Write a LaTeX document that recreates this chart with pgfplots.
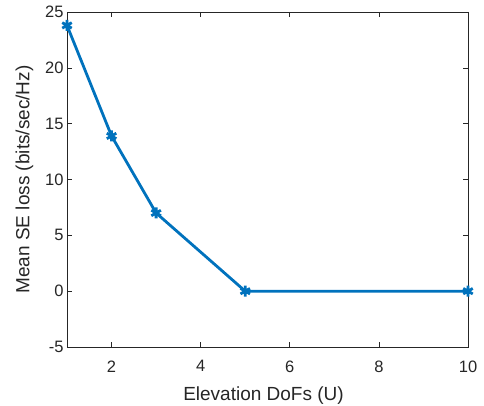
\documentclass[border=0pt]{standalone}
\usepackage{pgfplots}
\pgfplotsset{compat=1.18}
\usepackage{fontspec}
\setmainfont{Liberation Sans}
\definecolor{mblue}{rgb}{0,0.447,0.741}
\definecolor{axgray}{rgb}{0.15,0.15,0.15}
\begin{document}
\begin{tikzpicture}
\begin{axis}[
  scale only axis,
  width=401pt, height=335pt,
  xmin=1, xmax=10, ymin=-5, ymax=25,
  xtick={2,4,6,8,10}, ytick={-5,0,5,10,15,20,25},
  tick align=inside,
  major tick length=5pt,
  axis line style={axgray, line width=0.6pt},
  tick style={axgray, line width=0.6pt},
  ticklabel style={font=\fontsize{16.5}{19}\selectfont, text=axgray},
  xticklabel style={yshift=-10pt},
  /pgf/number format/assume math mode=true,
  xlabel={Elevation DoFs (U)},
  ylabel={Mean SE loss (bits/sec/Hz)},
  label style={font=\fontsize{19}{22}\selectfont, text=axgray},
  xlabel style={yshift=-8pt, xshift=-4pt},
  ylabel style={yshift=5pt},
]
\addplot[mblue, line width=2.8pt, mark=asterisk, mark size=5.5pt, mark options={line width=2.8pt}]
coordinates {(1,23.8) (2,13.9) (3,7.0) (5,0) (10,0)};
\end{axis}
\pgfresetboundingbox
\path[use as bounding box] ([xshift=-67pt,yshift=-58pt]current axis.south west) rectangle ([xshift=16pt,yshift=12pt]current axis.north east);
\end{tikzpicture}
\end{document}
